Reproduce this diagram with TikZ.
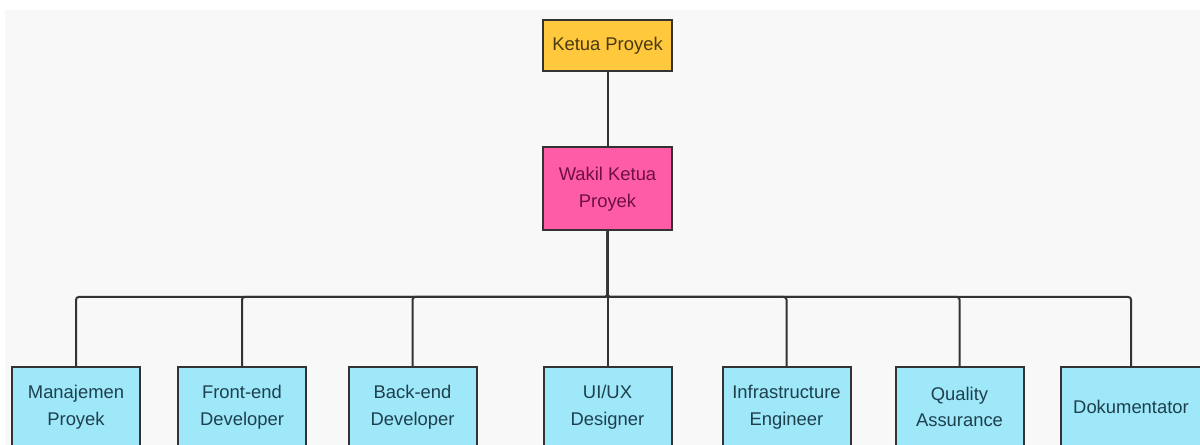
\documentclass[tikz,border=0pt]{standalone}
\usepackage{fontspec}
\setmainfont{Liberation Sans}
\definecolor{canvas}{HTML}{F8F8F8}
\definecolor{boxline}{HTML}{333333}
\definecolor{headfill}{HTML}{FFC83D}
\definecolor{headtext}{HTML}{4A3A10}
\definecolor{vicefill}{HTML}{FF5CA8}
\definecolor{vicetext}{HTML}{6E1040}
\definecolor{teamfill}{HTML}{9EE8FA}
\definecolor{teamtext}{HTML}{1E3F4C}
\begin{document}
\begin{tikzpicture}[x=0.75pt,y=-0.75pt]
\tikzstyle{boxfont} = [font=\fontsize{13.8}{20}\selectfont, align=center, inner sep=0pt]
\tikzstyle{head} = [boxfont, draw=boxline, line width=1.5pt, fill=headfill, text=headtext, minimum width=96.75pt, minimum height=38.25pt]
\tikzstyle{vice} = [boxfont, draw=boxline, line width=1.5pt, fill=vicefill, text=vicetext, minimum width=96.75pt, minimum height=62.25pt]
\tikzstyle{team} = [boxfont, draw=boxline, line width=1.5pt, fill=teamfill, text=teamtext, minimum width=96pt, minimum height=60pt]
\tikzstyle{link} = [draw=boxline, line width=1.5pt, rounded corners=2pt]
\useasboundingbox (0,0) rectangle (1200,445);
\clip (0,0) rectangle (1200,445);
% canvas
\fill[canvas] (5,10) rectangle (1200,445);
% top of the chart
\node[head] (ketua) at (607.5,45.5) {Ketua Proyek};
\node[vice] (wakil) at (607.5,189) {Wakil Ketua\\Proyek};
\coordinate (bus) at (607.5,297);
% team
\node[team] (manajemen) at (76,407) {Manajemen\\Proyek};
\node[team] (frontend) at (242,407) {Front-end\\Developer};
\node[team] (backend) at (412.5,407) {Back-end\\Developer};
\node[team] (uiux) at (607.5,407) {UI/UX\\Designer};
\node[team] (infra) at (786.5,407) {Infrastructure\\Engineer};
\node[team] (qa) at (959.5,407) {Quality\\Assurance};
\node[team, minimum width=105pt] (dokumen) at (1131,407) {Dokumentator};
% links
\draw[link] (ketua) -- (wakil);
\draw[link] (wakil.south) -- (bus) -| (manajemen.north);
\draw[link] (wakil.south) -- (bus) -| (frontend.north);
\draw[link] (wakil.south) -- (bus) -| (backend.north);
\draw[link] (wakil.south) -- (uiux.north);
\draw[link] (wakil.south) -- (bus) -| (infra.north);
\draw[link] (wakil.south) -- (bus) -| (qa.north);
\draw[link] (wakil.south) -- (bus) -| (dokumen.north);
\end{tikzpicture}
\end{document}
